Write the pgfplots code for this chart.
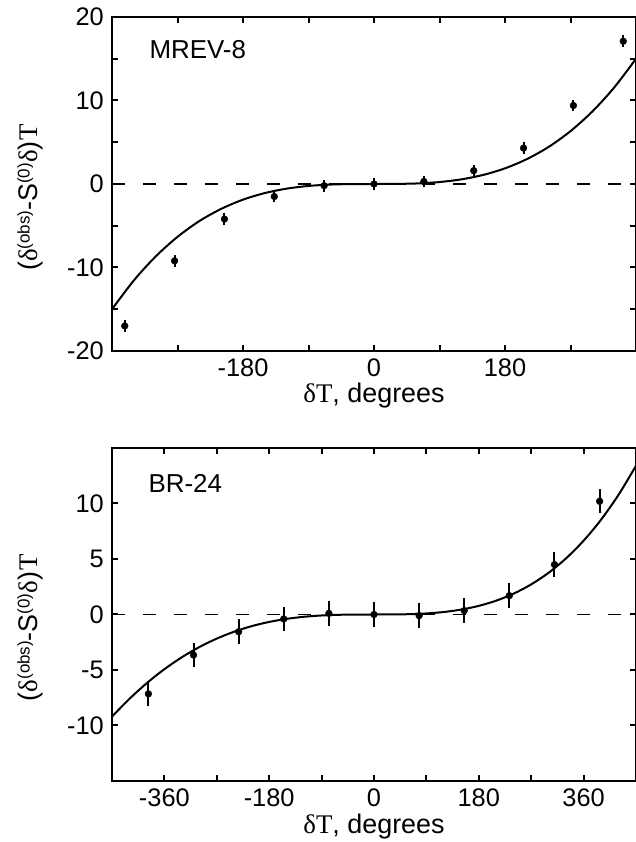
\documentclass[border=0pt]{standalone}
\usepackage{fontspec}
\setmainfont{Liberation Sans}
\newfontfamily\serif{Liberation Serif}
\usepackage{pgfplots}
\pgfplotsset{compat=1.18}

\newcommand{\ylab}{({\serif δ}\raisebox{8bp}{\fontsize{17}{18}\selectfont(obs)}-S\raisebox{8bp}{\fontsize{17}{18}\selectfont(0)}{\serif δ})\kern1bp{\serif T}}

\pgfplotsset{
  panel/.style={
    scale only axis, width=524bp,
    anchor=south west,
    axis line style={line width=2bp},
    every tick/.style={line width=2bp, black},
    tick align=inside,
    major tick length=6bp, minor tick length=6bp,
    tick label style={font=\fontsize{25.5}{28}\selectfont, inner sep=3bp},
    xticklabel style={yshift=-5bp},
    yticklabel style={xshift=-5bp},
    xlabel={{\serif δT}, degrees},
    ylabel={\ylab},
    label style={font=\fontsize{27}{30}\selectfont},
    xlabel style={at={(axis description cs:0.5,0)}, anchor=base, yshift=-52bp},
    ylabel style={at={(axis description cs:-0.156,0.46)}, anchor=center},
  },
  zeroline/.style={line width=1.6bp, dash pattern=on 13bp off 18bp},
  fitline/.style={line width=2bp, smooth},
  pts/.style={only marks, mark=*, mark size=3.4bp, black,
    error bars/.cd, y dir=both, y explicit, error mark=none,
    error bar style={line width=2bp}},
}

\begin{document}
\begin{tikzpicture}
% MREV-8
\begin{axis}[panel, at={(112bp,491bp)}, height=334bp,
  xmin=-360, xmax=360, ymin=-20, ymax=20,
  xtick={-180,0,180}, xticklabels={-180,0,180},
  minor xtick={-270,-90,90,270},
  ytick={-20,-10,0,10,20}, yticklabels={-20,-10,0,10,20},
  minor ytick={-15,-5,5,15}]
\addplot[zeroline] coordinates {(-360,0) (360,0)};
\addplot[fitline] coordinates {
(-360,-15) (-330,-11.55) (-300,-8.68) (-270,-6.33) (-240,-4.44) (-210,-2.98)
(-180,-1.875) (-150,-1.085) (-120,-0.556) (-90,-0.234) (-60,-0.069) (-30,-0.009)
(0,0) (30,0.009) (60,0.069) (90,0.234) (120,0.556) (150,1.085) (180,1.875)
(210,2.98) (240,4.44) (270,6.33) (300,8.68) (330,11.55) (360,15)};
\addplot[pts] coordinates {
(-342.5,-17.0) +- (0,0.7)
(-274,-9.2) +- (0,0.7)
(-205.5,-4.2) +- (0,0.7)
(-137,-1.5) +- (0,0.7)
(-68.5,-0.2) +- (0,0.7)
(0,0.0) +- (0,0.7)
(68.5,0.3) +- (0,0.7)
(137,1.6) +- (0,0.7)
(205.5,4.3) +- (0,0.7)
(274,9.4) +- (0,0.7)
(342.5,17.1) +- (0,0.7)};
\node[anchor=base west, font=\fontsize{26}{30}\selectfont] at (rel axis cs:0.065,0.877) {MREV-8};
\end{axis}

% BR-24
\begin{axis}[panel, at={(112bp,61bp)}, height=333bp,
  xmin=-450, xmax=450, ymin=-15, ymax=15,
  xtick={-360,-180,0,180,360}, xticklabels={-360,-180,0,180,360},
  minor xtick={-270,-90,90,270},
  ytick={-10,-5,0,5,10}, yticklabels={-10,-5,0,5,10}]
\addplot[zeroline] coordinates {(-450,0) (450,0)};
\addplot[fitline] coordinates {
(-450,-9.2) (-420,-7.594) (-390,-6.171) (-360,-4.926) (-330,-3.850) (-300,-2.933)
(-270,-2.169) (-240,-1.544) (-210,-1.048) (-180,-0.669) (-150,-0.393) (-120,-0.204)
(-90,-0.087) (-60,-0.026) (-30,-0.003) (0,0) (30,0.003) (60,0.028) (90,0.094)
(120,0.225) (150,0.445) (180,0.777) (210,1.248) (240,1.884) (270,2.713)
(300,3.763) (330,5.064) (360,6.646) (390,8.541) (420,10.78) (450,13.4)};
\addplot[pts] coordinates {
(-387.5,-7.15) +- (0,1.1)
(-310,-3.65) +- (0,1.1)
(-232.5,-1.55) +- (0,1.1)
(-155,-0.4) +- (0,1.1)
(-77.5,0.1) +- (0,1.1)
(0,0.0) +- (0,1.1)
(77.5,-0.1) +- (0,1.1)
(155,0.35) +- (0,1.1)
(232.5,1.7) +- (0,1.1)
(310,4.5) +- (0,1.1)
(387.5,10.2) +- (0,1.1)};
\node[anchor=base west, font=\fontsize{26}{30}\selectfont] at (rel axis cs:0.063,0.865) {BR-24};
\end{axis}
\pgfresetboundingbox
\path[use as bounding box] (0,0) rectangle (635.3bp,842bp);
\end{tikzpicture}
\end{document}
